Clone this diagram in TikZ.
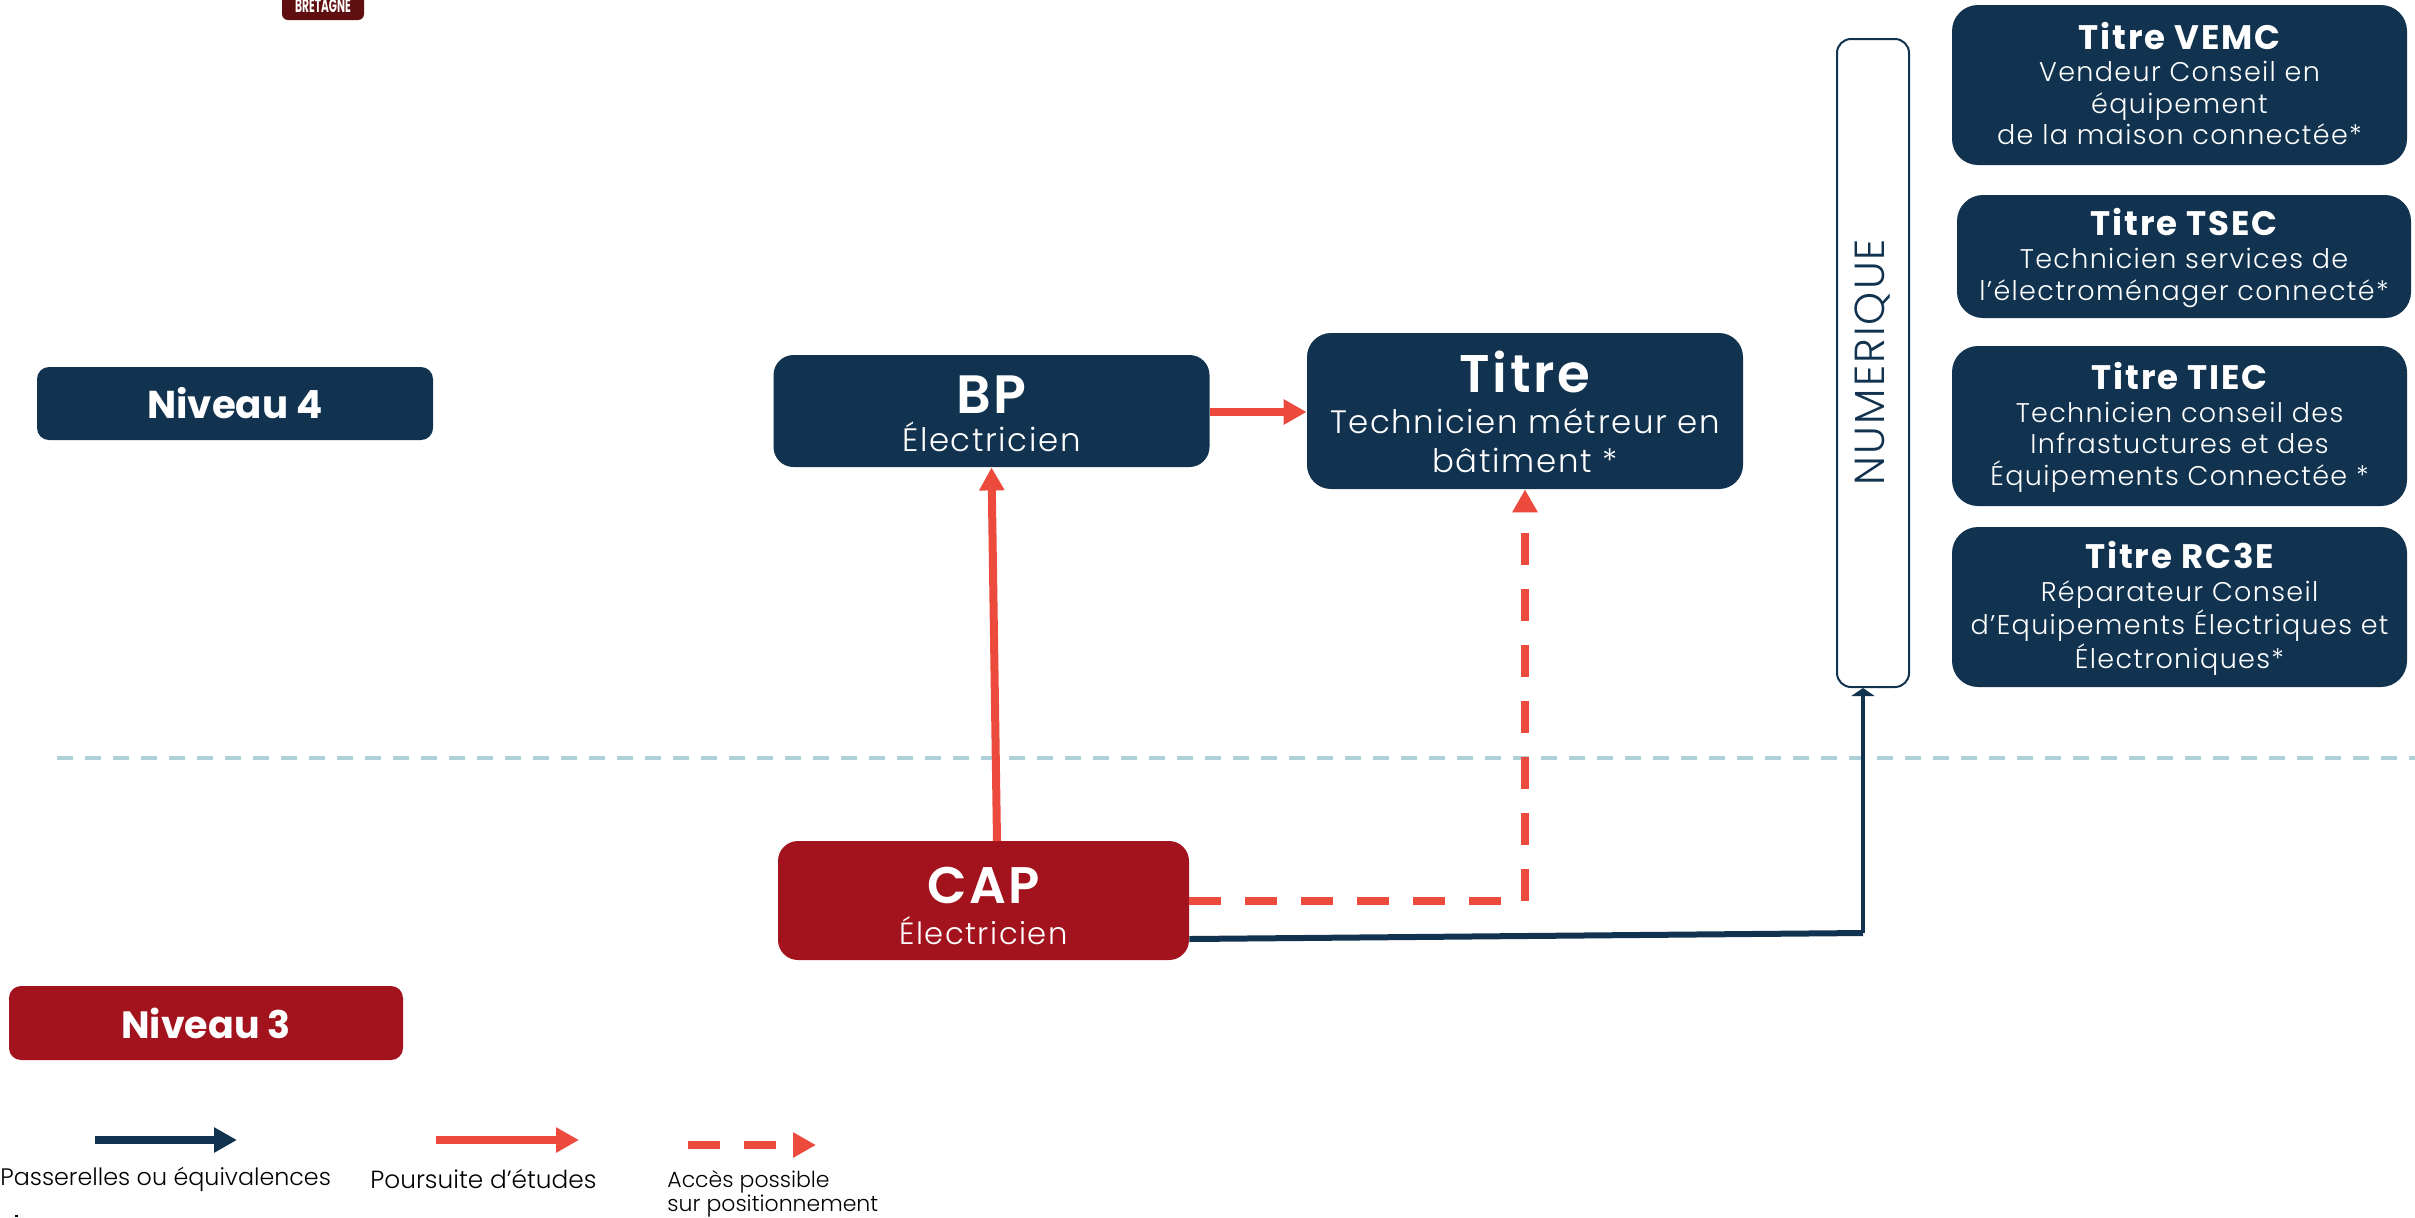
\documentclass[tikz,border=0pt]{standalone}
\usepackage{fontspec}
\setmainfont{Poppins}
\newfontfamily\lightfont[LetterSpace=5]{Poppins Light}
\newfontfamily\plainlight{Poppins Light}
\newfontfamily\boldtrack[LetterSpace=5.5]{Poppins Bold}
\usetikzlibrary{arrows.meta,positioning,calc}

\definecolor{navyfill}{HTML}{113350}
\definecolor{redfill}{HTML}{A3131E}
\definecolor{arrowred}{HTML}{EC4A3C}
\definecolor{darkred}{HTML}{5F0F0F}
\definecolor{tealline}{HTML}{AFD0D8}

\newcommand{\titlesize}{\fontsize{17}{16}\selectfont\boldtrack}

\tikzset{
    navybox/.style={fill=navyfill, text=white, rounded corners=13pt, align=center, inner sep=0pt},
    redbox/.style={navybox, fill=redfill},
    boxsize/.style 2 args={minimum width=#1*0.5pt, minimum height=#2*0.5pt},
    boxtext/.style={text=white, align=center, inner sep=0pt},
    subfont/.style={boxtext, font=\fontsize{13.5}{15.8}\selectfont\lightfont},
    legendtext/.style={anchor=west, inner sep=0pt, align=left, font=\fontsize{#1}{12.5}\selectfont\plainlight},
    fulltip/.style={-{Triangle[length=11.5pt, width=12pt]}, line width=4pt},
    pass/.style={fulltip, draw=navyfill},
    suite/.style={fulltip, draw=arrowred},
    acces/.style={suite, dash pattern=on 16pt off 12pt},
}

\begin{document}
\begin{tikzpicture}[x=0.5pt, y=-0.5pt]
    \useasboundingbox (0, 0) rectangle (2415, 1217);

    % logo cut by the top edge
    \begin{scope}
        \clip (0, 0) rectangle (2415, 1217);
        \node[fill=darkred, rounded corners=3pt, boxsize={82}{40}, text=white] (logo) at (323, 0) {};
        \node[text=white, inner sep=0pt, xscale=0.56, font=\fontsize{9.5}{9.5}\selectfont\bfseries] (logotext) at (323, 6) {BRETAGNE};
        \fill[black] (15, 1215) rectangle (18, 1217);
    \end{scope}

    % level separator
    \coordinate (sepa) at (57, 758);
    \coordinate (sepb) at (2415, 758);
    \draw[tealline, line width=2.2pt, dash pattern=on 8pt off 6pt] (sepa) -- (sepb);

    % levels
    \node[navybox, boxsize={396}{73}, rounded corners=6pt, font=\fontsize{19.4}{20}\selectfont\bfseries] (niv4) at (235, 403.5) {Niveau 4};
    \node[redbox, boxsize={394}{74}, rounded corners=6pt, font=\fontsize{19}{20}\selectfont\bfseries] (niv3) at (206, 1023) {Niveau 3};

    % diplomas
    \node[navybox, boxsize={436}{112}, rounded corners=10pt] (bp) at (991.5, 411) {};
    \node[boxtext, font=\fontsize{16.2}{18.9}\selectfont\lightfont] (bptext) at (991.5, 414) {\fontsize{27}{26}\selectfont\bfseries BP\\Électricien};
    \node[navybox, boxsize={436}{156}, rounded corners=12pt] (titre) at (1525, 411) {};
    \node[boxtext, font=\fontsize{16.2}{19.5}\selectfont\lightfont] (titretext) at (1525, 412) {\fontsize{26.5}{28}\selectfont\bfseries Titre\\[1pt]Technicien métreur en\\bâtiment *};
    \node[redbox, boxsize={411}{119}, rounded corners=10pt] (cap) at (983.5, 900.5) {};
    \node[boxtext, font=\fontsize{15.3}{20.6}\selectfont\lightfont] (captext) at (983.5, 906) {\fontsize{25.7}{27}\selectfont\bfseries CAP\\Électricien};

    % numerique column
    \node[draw=navyfill, line width=1pt, fill=white, rounded corners=7pt, boxsize={72}{648}] (num) at (1873, 363) {};
    \node[rotate=90, text=navyfill, inner sep=0pt, font=\fontsize{21}{21}\selectfont\lightfont] (numtext) at (1873, 362) {NUMERIQUE};

    % titles on the right
    \node[navybox, boxsize={455}{160}] (vemc) at (2179.5, 85) {};
    \node[subfont] (vemctext) at (2179.5, 83.5) {\titlesize Titre VEMC\\[0.5pt]Vendeur Conseil en\\équipement\\de la maison connectée*};
    \node[navybox, boxsize={454}{123}] (tsec) at (2184, 256.5) {};
    \node[subfont] (tsectext) at (2184, 258) {\titlesize Titre TSEC\\[0.5pt]Technicien services de\\l’électroménager connecté*};
    \node[navybox, boxsize={455}{160}] (tiec) at (2179.5, 426) {};
    \node[subfont] (tiectext) at (2179.5, 427.5) {\titlesize Titre TIEC\\[0.5pt]Technicien conseil des\\Infrastuctures et des\\Équipements Connectée *};
    \node[navybox, boxsize={455}{160}] (rc3e) at (2179.5, 607) {};
    \node[subfont] (rc3etext) at (2179.5, 608.5) {\titlesize Titre RC3E\\[0.5pt]Réparateur Conseil\\d’Equipements Électriques et\\Électroniques*};

    % arrows between the diplomas
    \draw[suite] (bp.east |- 0, 412) -- (titre.west |- 0, 412);
    \coordinate (capout) at (997, 841);
    \draw[suite] (capout) -- (bp.south);
    \coordinate (capside) at (cap.east |- 0, 901);
    \coordinate (corner) at (1525, 901);
    \draw[arrowred, line width=4pt, dash pattern=on 16pt off 12pt] (capside) -- (corner);
    \draw[acces] (corner) -- (corner |- titre.south);
    \coordinate (capfoot) at (cap.east |- 0, 939);
    \coordinate (bend) at (1863, 933);
    \draw[navyfill, line width=3pt] (capfoot) -- (bend);
    \draw[navyfill, line width=2.4pt, -{Triangle[length=4pt, width=11.5pt]}] (bend) -- (bend |- num.south);

    % legend
    \coordinate (la) at (95, 1140);
    \coordinate (lb) at (237, 1140);
    \draw[pass] (la) -- (lb);
    \node[legendtext=11.9] (ltxta) at (0, 1179) {Passerelles ou équivalences};
    \coordinate (lc) at (436, 1140);
    \coordinate (ld) at (579, 1140);
    \draw[suite] (lc) -- (ld);
    \node[legendtext=12.4] (ltxtb) at (370, 1179) {Poursuite d’études};
    \coordinate (le) at (688, 1145);
    \coordinate (lf) at (816, 1145);
    \draw[acces] (le) -- (lf);
    \node[legendtext=11] (ltxtc) at (667, 1194) {Accès possible\\[-0.5pt]sur positionnement};
\end{tikzpicture}
\end{document}
